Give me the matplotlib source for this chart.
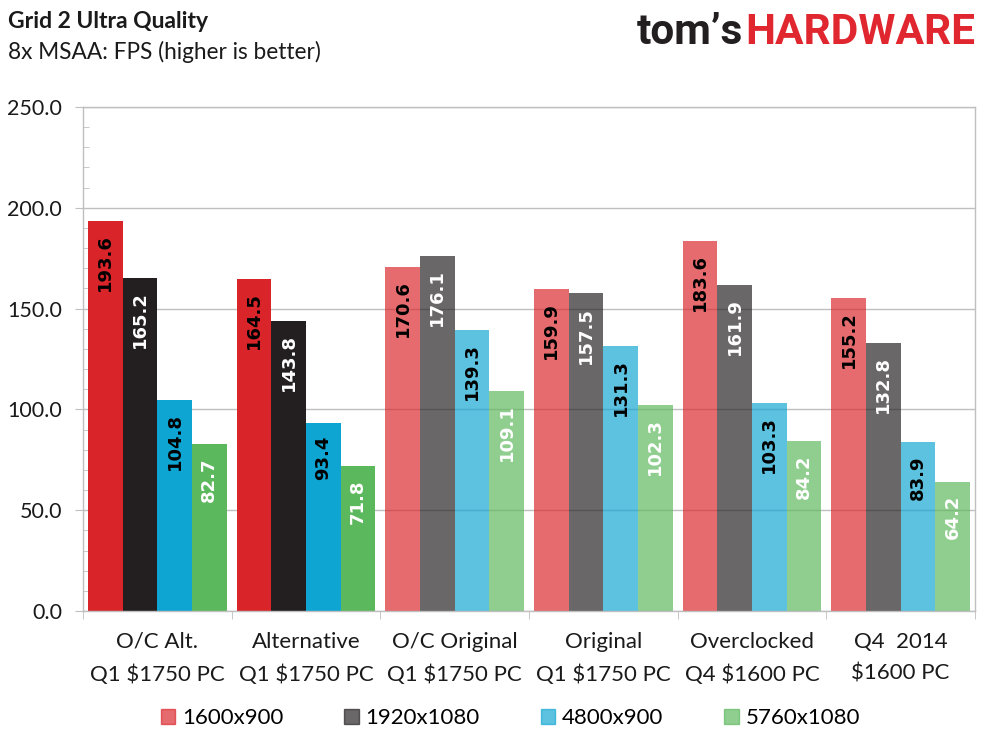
import numpy as np
import matplotlib.pyplot as plt
from matplotlib.patches import Patch
from matplotlib.ticker import MultipleLocator

# data
systems = ["O/C Alt.\nQ1 \\$1750 PC", "Alternative\nQ1 \\$1750 PC", "O/C Original\nQ1 \\$1750 PC",
           "Original\nQ1 \\$1750 PC", "Overclocked\nQ4 \\$1600 PC", "Q4  2014\n\\$1600 PC"]
resolutions = ["1600x900", "1920x1080", "4800x900", "5760x1080"]
fps_1600x900 = [193.6, 164.5, 170.6, 159.9, 183.6, 155.2]
fps_1920x1080 = [165.2, 143.8, 176.1, 157.5, 161.9, 132.8]
fps_4800x900 = [104.8, 93.4, 139.3, 131.3, 103.3, 83.9]
fps_5760x1080 = [82.7, 71.8, 109.1, 102.3, 84.2, 64.2]
series = [fps_1600x900, fps_1920x1080, fps_4800x900, fps_5760x1080]

colors = ["#D9252A", "#231F20", "#0FA5D2", "#5CB85C"]
label_colors = ["black", "white", "black", "white"]
# the first two systems are drawn solid, the rest faded
alphas = [1, 1, 0.68, 0.68, 0.68, 0.68]

font = "Lato"
grey = "#BFBFBF"

fig = plt.figure(figsize=(9.89, 7.42), dpi=100)
ax = fig.add_axes([0.0839, 0.1765, 0.9019, 0.6793])

x = np.arange(len(systems))
w = 0.233
for j, vals in enumerate(series):
    pos = x + (j - 1.5) * w
    for i in range(len(systems)):
        ax.bar(pos[i], vals[i], width=w, color=colors[j], alpha=alphas[i], zorder=2)
        ax.annotate(f"{vals[i]:.1f}", (pos[i], vals[i]), xytext=(0, -9.5),
                    textcoords="offset points", rotation=90, ha="center", va="top",
                    color=label_colors[j], fontsize=13, fontweight="bold",
                    family="DejaVu Sans", zorder=3)

ax.set_xlim(-0.5, len(systems) - 0.5)
ax.set_ylim(0, 250)
ax.yaxis.set_minor_locator(MultipleLocator(10))
ax.set_yticks(np.arange(0, 251, 50), [f"{v:.1f}" for v in np.arange(0, 251, 50)])
ax.tick_params(axis="y", which="major", length=6, direction="out", color=grey, pad=9,
               labelsize=15.5, labelcolor="#1a1a1a")
ax.tick_params(axis="y", which="minor", length=4.5, direction="in", color=grey)
ax.set_xticks(x, systems)
ax.set_xticks(np.arange(-0.5, len(systems)), minor=True)
ax.tick_params(axis="x", which="major", length=0, pad=15, labelsize=16, labelcolor="#1a1a1a")
ax.tick_params(axis="x", which="minor", length=6, direction="out", color=grey)
for t in ax.get_xticklabels() + ax.get_yticklabels():
    t.set_family(font)
for t in ax.get_xticklabels():
    t.set_linespacing(1.75)

ax.grid(axis="y", color=grey, lw=1, zorder=0)
ax.set_axisbelow(True)
for s in ax.spines.values():
    s.set_color(grey)
    s.set_linewidth(1)

handles = [Patch(color=c, alpha=0.68) for c in colors]
fig.legend(handles, resolutions, loc="center", bbox_to_anchor=(0.516, 0.032), ncol=4,
           frameon=False, prop={"family": font, "size": 16}, handlelength=0.65,
           handleheight=0.65, handletextpad=0.3, columnspacing=2.75)


def fit_width(t, px):
    # scale a text so that it spans about px pixels
    fig.canvas.draw()
    cur = t.get_window_extent().width
    t.set_fontsize(t.get_fontsize() * px / cur)


title = fig.text(8 / 989, 1 - 22 / 742, "Grid 2 Ultra Quality", family=font, fontweight="bold",
                 fontsize=14, va="center", ha="left", color="#1a1a1a")
sub = fig.text(8 / 989, 1 - 52 / 742, "8x MSAA: FPS (higher is better)", family=font,
               fontsize=16, va="center", ha="left", color="#1a1a1a")
fit_width(title, 202)
fit_width(sub, 314)

# logo
hw = fig.text(975 / 989, 1 - 33 / 742, "HARDWARE", family="Roboto", fontweight="bold",
              fontsize=30.5, color="#E0262E", ha="right", va="center")
fig.canvas.draw()
bb = hw.get_window_extent()
fig.text(bb.x0 / fig.bbox.width - 0.002, 1 - 33 / 742, "tom\u2019s", family="Roboto",
         fontweight="bold", fontsize=30.5, color="#231F20", ha="right", va="center")

fig.savefig("out.png", dpi=100)
